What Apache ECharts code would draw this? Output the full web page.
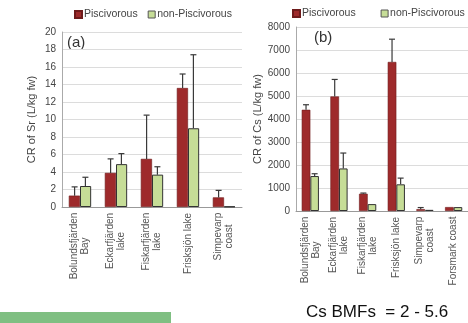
<!DOCTYPE html>
<html><head><meta charset="utf-8">
<script src="https://cdn.jsdelivr.net/npm/echarts@6/dist/echarts.min.js"></script>
<style>html,body{margin:0;padding:0;background:#fff}#c{width:468px;height:323px}</style>
</head><body><div id="c"></div>
<script>
const catsA = ['Bolundsfjärden\nBay','Eckarfjärden\nlake','Fiskarfjärden\nlake','Frisksjön lake','Simpevarp\ncoast'];
const piscA = [1.3, 3.9, 5.5, 13.6, 1.1];
const piscAErr = [2.3, 5.5, 10.5, 15.2, 1.9];
const nonA = [2.4, 4.9, 3.7, 9.0, 0.05];
const nonAErr = [3.4, 6.1, 4.6, 17.4, null];
const ticksA = [0, 2, 4, 6, 8, 10, 12, 14, 16, 18, 20];

const catsB = ['Bolundsfjärden\nBay','Eckarfjärden\nlake','Fiskarfjärden\nlake','Frisksjön lake','Simpevarp\ncoast','Forsmark coast'];
const piscB = [4400, 4980, 750, 6480, 80, 170];
const piscBErr = [4620, 5720, 780, 7470, 150, null];
const nonB = [1520, 1850, 300, 1160, 50, 170];
const nonBErr = [1620, 2520, null, 1430, null, null];
const ticksB = [0, 1000, 2000, 3000, 4000, 5000, 6000, 7000, 8000];

const RED = '#9e2a2b', GREEN = '#c6dd97';
const chart = echarts.init(document.getElementById('c'));

function errSeries(name, xi, yi, vals, errs, side){
  return {
    name: name+'_err', type: 'custom', xAxisIndex: xi, yAxisIndex: yi, z: 5,
    data: vals.map((v,i)=>[i, v, errs[i]]),
    renderItem: function(params, api){
      const e = api.value(2);
      if (e === null || e === undefined || isNaN(e)) return null;
      const band = api.size([1,0])[0];
      const off = side * band * 0.15;
      const p0 = api.coord([api.value(0), api.value(1)]);
      const p1 = api.coord([api.value(0), e]);
      const x = p0[0] + off;
      const st = {stroke:'#3a3a3a', lineWidth:1.2};
      return {type:'group', children:[
        {type:'line', shape:{x1:x,y1:p0[1],x2:x,y2:p1[1]}, style:st},
        {type:'line', shape:{x1:x-3,y1:p1[1],x2:x+3,y2:p1[1]}, style:st}
      ]};
    }
  };
}

// centre the lines of each multi-line category label
const ctx = document.createElement('canvas').getContext('2d');
ctx.font = '10px "Liberation Sans"';
const allCats = catsA.concat(catsB);
const uniq = Array.from(new Set(allCats));
const rich = {};
uniq.forEach((lab, k) => {
  const w = Math.max(...lab.split('\n').map(s => ctx.measureText(s).width));
  rich['c' + k] = {align: 'center', width: Math.ceil(w) + 1, fontSize: 10, color: '#555', lineHeight: 11, fontFamily: 'Liberation Sans'};
});
const catFormatter = v => { const k = uniq.indexOf(v); return v.split('\n').map(s => '{c' + k + '|' + s + '}').join('\n'); };
const axisLabelCat = {rotate: 90, fontSize: 10, color: '#555', fontFamily: 'Liberation Sans', interval: 0, margin: 5,
  formatter: catFormatter, rich: rich};
const yLabel = {fontSize: 10, color: '#444', fontFamily: 'Liberation Sans', margin: 6, formatter: v => String(v)};

chart.setOption({
  animation: false,
  textStyle: {fontFamily: 'Liberation Sans'},
  legend: [
    {left: 74, top: 9, padding: 0, itemWidth: 7, itemHeight: 7, itemGap: 10, textStyle:{fontSize: 10.5, color:'#444', padding:[0,0,0,-3]},
     data: [{name:'Piscivorous', icon:'rect'}, {name:'non-Piscivorous', icon:'rect', itemStyle:{borderColor:'#555', borderWidth:1}}]},
    {left: 292, top: 8, padding: 0, width: 176, itemWidth: 7, itemHeight: 7, itemGap: 22, textStyle:{fontSize: 10.5, color:'#444', padding:[0,0,0,-3]},
     data: [{name:'Piscivorous ', icon:'rect'}, {name:'non-Piscivorous ', icon:'rect', itemStyle:{borderColor:'#555', borderWidth:1}}]}
  ],
  grid: [
    {left: 62, right: 226, top: 32, bottom: 116},
    {left: 296, right: 0, top: 27, bottom: 112}
  ],
  xAxis: [
    {type:'category', gridIndex:0, data: catsA, axisLine:{lineStyle:{color:'#999'}}, axisTick:{length:3, lineStyle:{color:'#999'}}, axisLabel: axisLabelCat},
    {type:'category', gridIndex:1, data: catsB, axisLine:{lineStyle:{color:'#999'}}, axisTick:{length:3, lineStyle:{color:'#999'}}, axisLabel: axisLabelCat}
  ],
  yAxis: [
    {type:'value', gridIndex:0, min: ticksA[0], max: ticksA[ticksA.length-1], interval: 2,
     name:'CR of Sr (L/kg fw)', nameLocation:'middle', nameGap: 25, nameTextStyle:{fontSize: 11, color:'#444'},
     axisLine:{show:true, lineStyle:{color:'#aaa'}}, axisTick:{show:false}, axisLabel: yLabel,
     splitLine:{lineStyle:{color:'#dcdcdc'}}},
    {type:'value', gridIndex:1, min: ticksB[0], max: ticksB[ticksB.length-1], interval: 1000,
     name:'CR of Cs (L/kg fw)', nameLocation:'middle', nameGap: 33, nameTextStyle:{fontSize: 11, color:'#444'},
     axisLine:{show:true, lineStyle:{color:'#aaa'}}, axisTick:{show:false}, axisLabel: yLabel,
     splitLine:{lineStyle:{color:'#dcdcdc'}}}
  ],
  series: [
    {name:'Piscivorous', type:'bar', xAxisIndex:0, yAxisIndex:0, data: piscA, barGap:'0%', barCategoryGap:'38%',
     itemStyle:{color:RED, borderColor:'#6e1b1b', borderWidth:0.6}},
    {name:'non-Piscivorous', type:'bar', xAxisIndex:0, yAxisIndex:0, data: nonA, barGap:'0%', barCategoryGap:'38%',
     itemStyle:{color:GREEN, borderColor:'#333', borderWidth:1}},
    {name:'Piscivorous ', type:'bar', xAxisIndex:1, yAxisIndex:1, data: piscB, barGap:'0%', barCategoryGap:'40%',
     itemStyle:{color:RED, borderColor:'#6e1b1b', borderWidth:0.6}},
    {name:'non-Piscivorous ', type:'bar', xAxisIndex:1, yAxisIndex:1, data: nonB, barGap:'0%', barCategoryGap:'40%',
     itemStyle:{color:GREEN, borderColor:'#333', borderWidth:1}},
    errSeries('pa', 0, 0, piscA, piscAErr, -1),
    errSeries('na', 0, 0, nonA, nonAErr, 1),
    errSeries('pb', 1, 1, piscB, piscBErr, -1),
    errSeries('nb', 1, 1, nonB, nonBErr, 1)
  ],
  graphic: [
    {type:'text', left: 67, top: 35, style:{text:'(a)', fontSize: 15, fill:'#333', fontFamily:'Liberation Sans'}},
    {type:'text', left: 314, top: 30, style:{text:'(b)', fontSize: 15, fill:'#333', fontFamily:'Liberation Sans'}},
    {type:'rect', shape:{x:0, y:312, width:171, height:11}, style:{fill:'#7fbf82'}},
    {type:'text', left: 306, top: 304, style:{text:'Cs BMFs  = 2 - 5.6', fontSize: 17, fill:'#111', fontFamily:'Liberation Sans'}}
  ]
});
</script></body></html>
